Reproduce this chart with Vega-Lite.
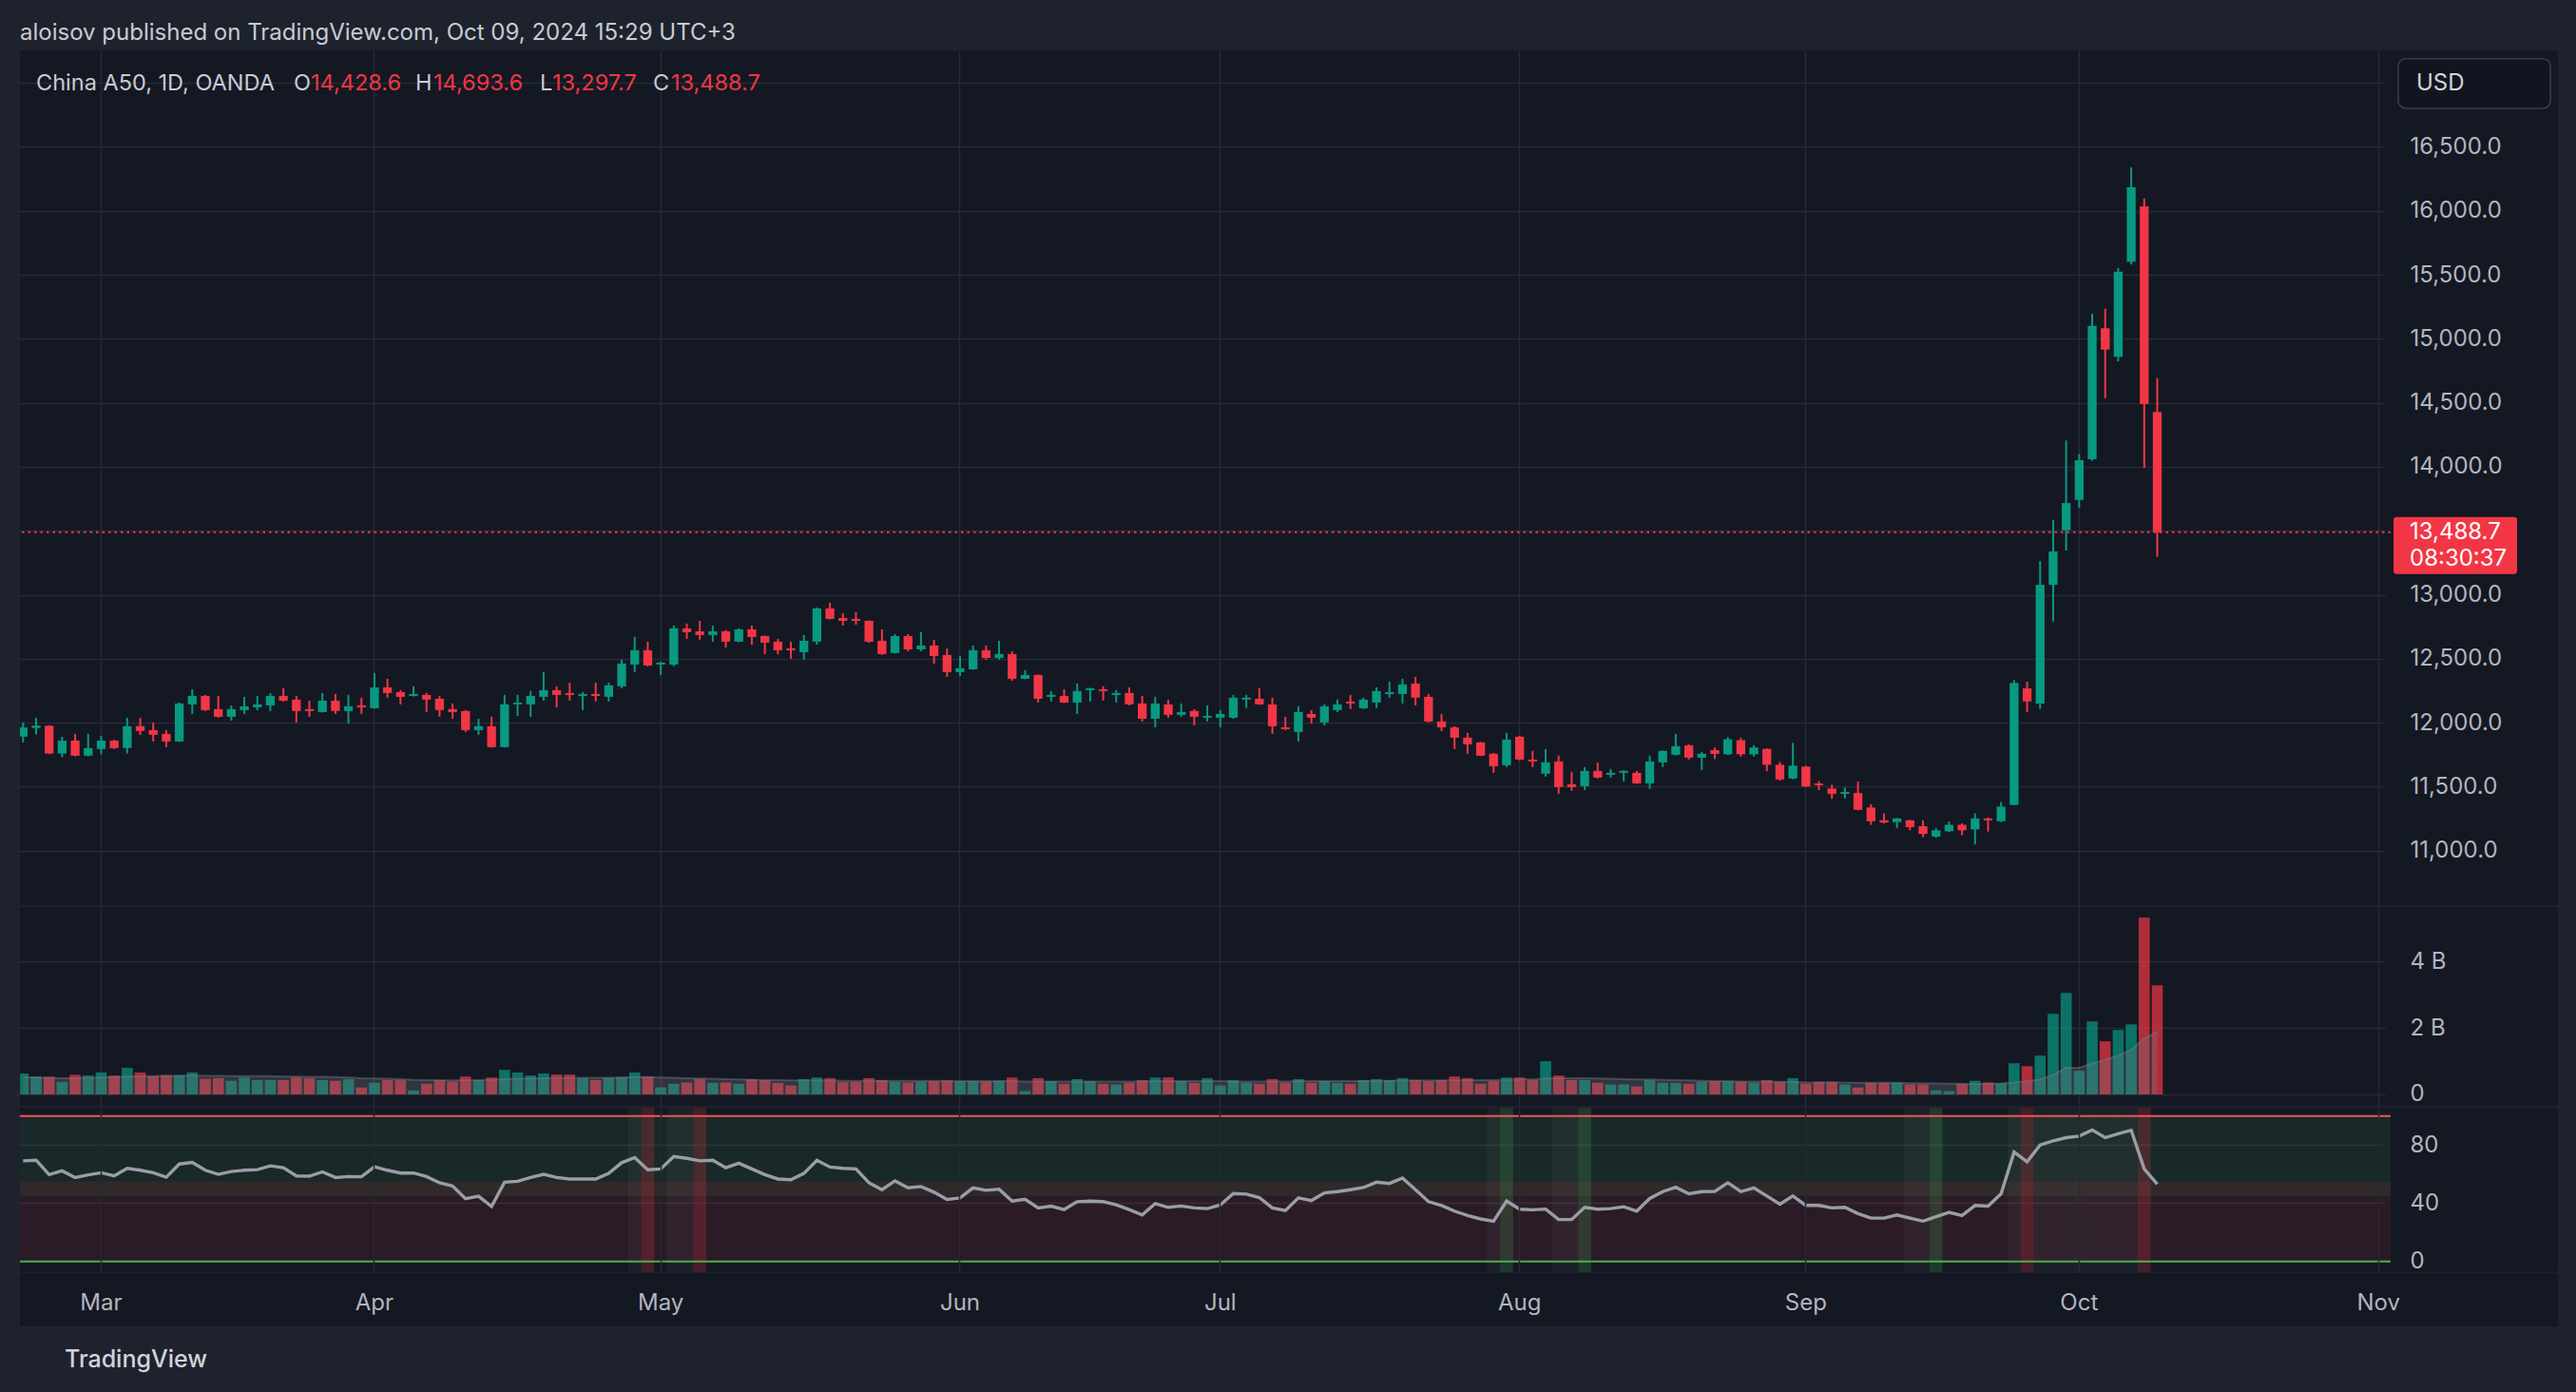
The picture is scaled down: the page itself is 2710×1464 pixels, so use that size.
{
"$schema": "https://vega.github.io/schema/vega-lite/v6.json",
"background": "#1e222d",
"padding": {"left": 20, "top": 23, "right": 20, "bottom": 30},
"config": {"font": "Inter", "view": {"stroke": null, "fill": "#141823"}, "axis": {"gridColor": "#252a36", "gridWidth": 1.5}},
"title": {"text": "aloisov published on TradingView.com, Oct 09, 2024 15:29 UTC+3", "anchor": "start", "frame": "group", "fontSize": 24, "fontWeight": "normal", "color": "#c8cbd3", "offset": 6, "font": "Inter"},
"datasets": {
"bars": [
{"date":"2024-02-22","open":11891,"high":12003,"low":11847,"close":11965,"vol":0.63,"vma":0.52,"rsi":69.2},
{"date":"2024-02-23","open":11960,"high":12040,"low":11909,"close":11978,"vol":0.54,"vma":0.51,"rsi":69.6},
{"date":"2024-02-26","open":11978,"high":11980,"low":11755,"close":11760,"vol":0.53,"vma":0.50,"rsi":59.7},
{"date":"2024-02-27","open":11760,"high":11891,"low":11730,"close":11861,"vol":0.38,"vma":0.49,"rsi":62.3},
{"date":"2024-02-28","open":11861,"high":11913,"low":11738,"close":11743,"vol":0.59,"vma":0.49,"rsi":57.7},
{"date":"2024-02-29","open":11743,"high":11913,"low":11738,"close":11802,"vol":0.57,"vma":0.50,"rsi":59.5},
{"date":"2024-03-01","open":11795,"high":11899,"low":11753,"close":11861,"vol":0.66,"vma":0.51,"rsi":61.0},
{"date":"2024-03-04","open":11861,"high":11868,"low":11795,"close":11802,"vol":0.57,"vma":0.52,"rsi":58.8},
{"date":"2024-03-05","open":11802,"high":12040,"low":11760,"close":11973,"vol":0.80,"vma":0.54,"rsi":64.0},
{"date":"2024-03-06","open":11973,"high":12040,"low":11906,"close":11936,"vol":0.66,"vma":0.55,"rsi":62.7},
{"date":"2024-03-07","open":11943,"high":12003,"low":11854,"close":11906,"vol":0.55,"vma":0.55,"rsi":61.0},
{"date":"2024-03-08","open":11913,"high":11943,"low":11810,"close":11854,"vol":0.58,"vma":0.56,"rsi":57.9},
{"date":"2024-03-11","open":11854,"high":12158,"low":11850,"close":12151,"vol":0.58,"vma":0.56,"rsi":67.0},
{"date":"2024-03-12","open":12144,"high":12262,"low":12069,"close":12210,"vol":0.66,"vma":0.57,"rsi":68.1},
{"date":"2024-03-13","open":12210,"high":12218,"low":12092,"close":12099,"vol":0.47,"vma":0.56,"rsi":62.7},
{"date":"2024-03-14","open":12107,"high":12210,"low":12040,"close":12047,"vol":0.49,"vma":0.56,"rsi":59.9},
{"date":"2024-03-15","open":12047,"high":12136,"low":12017,"close":12107,"vol":0.41,"vma":0.55,"rsi":61.8},
{"date":"2024-03-18","open":12099,"high":12203,"low":12069,"close":12129,"vol":0.51,"vma":0.55,"rsi":62.7},
{"date":"2024-03-19","open":12121,"high":12210,"low":12099,"close":12144,"vol":0.43,"vma":0.55,"rsi":63.1},
{"date":"2024-03-20","open":12136,"high":12233,"low":12092,"close":12210,"vol":0.43,"vma":0.55,"rsi":65.7},
{"date":"2024-03-21","open":12210,"high":12270,"low":12166,"close":12173,"vol":0.43,"vma":0.54,"rsi":64.4},
{"date":"2024-03-22","open":12181,"high":12210,"low":12003,"close":12092,"vol":0.51,"vma":0.54,"rsi":58.8},
{"date":"2024-03-25","open":12107,"high":12173,"low":12047,"close":12092,"vol":0.49,"vma":0.53,"rsi":58.6},
{"date":"2024-03-26","open":12084,"high":12233,"low":12080,"close":12173,"vol":0.43,"vma":0.53,"rsi":61.6},
{"date":"2024-03-27","open":12173,"high":12225,"low":12069,"close":12092,"vol":0.41,"vma":0.52,"rsi":57.7},
{"date":"2024-03-28","open":12092,"high":12218,"low":11995,"close":12129,"vol":0.46,"vma":0.51,"rsi":58.4},
{"date":"2024-03-29","open":12136,"high":12196,"low":12069,"close":12121,"vol":0.21,"vma":0.49,"rsi":58.2},
{"date":"2024-04-01","open":12114,"high":12389,"low":12110,"close":12277,"vol":0.35,"vma":0.48,"rsi":65.1},
{"date":"2024-04-02","open":12277,"high":12344,"low":12196,"close":12233,"vol":0.43,"vma":0.47,"rsi":62.7},
{"date":"2024-04-03","open":12240,"high":12255,"low":12144,"close":12203,"vol":0.43,"vma":0.46,"rsi":60.8},
{"date":"2024-04-04","open":12210,"high":12285,"low":12205,"close":12225,"vol":0.12,"vma":0.44,"rsi":60.8},
{"date":"2024-04-05","open":12218,"high":12233,"low":12084,"close":12181,"vol":0.32,"vma":0.43,"rsi":58.4},
{"date":"2024-04-08","open":12188,"high":12210,"low":12047,"close":12099,"vol":0.43,"vma":0.43,"rsi":54.1},
{"date":"2024-04-09","open":12107,"high":12151,"low":12032,"close":12084,"vol":0.39,"vma":0.42,"rsi":51.9},
{"date":"2024-04-10","open":12092,"high":12099,"low":11928,"close":11943,"vol":0.54,"vma":0.43,"rsi":43.2},
{"date":"2024-04-11","open":11943,"high":12032,"low":11906,"close":11973,"vol":0.43,"vma":0.43,"rsi":44.8},
{"date":"2024-04-12","open":11973,"high":12047,"low":11806,"close":11810,"vol":0.51,"vma":0.44,"rsi":37.8},
{"date":"2024-04-15","open":11810,"high":12218,"low":11806,"close":12144,"vol":0.74,"vma":0.46,"rsi":54.5},
{"date":"2024-04-16","open":12144,"high":12218,"low":12054,"close":12158,"vol":0.66,"vma":0.47,"rsi":55.1},
{"date":"2024-04-17","open":12144,"high":12248,"low":12047,"close":12210,"vol":0.57,"vma":0.48,"rsi":57.7},
{"date":"2024-04-18","open":12203,"high":12396,"low":12173,"close":12255,"vol":0.63,"vma":0.49,"rsi":59.9},
{"date":"2024-04-19","open":12255,"high":12285,"low":12121,"close":12218,"vol":0.60,"vma":0.50,"rsi":57.7},
{"date":"2024-04-22","open":12233,"high":12314,"low":12173,"close":12218,"vol":0.60,"vma":0.50,"rsi":56.7},
{"date":"2024-04-23","open":12210,"high":12240,"low":12099,"close":12225,"vol":0.49,"vma":0.50,"rsi":56.7},
{"date":"2024-04-24","open":12225,"high":12314,"low":12166,"close":12210,"vol":0.43,"vma":0.50,"rsi":56.7},
{"date":"2024-04-25","open":12203,"high":12314,"low":12166,"close":12292,"vol":0.50,"vma":0.50,"rsi":60.5},
{"date":"2024-04-26","open":12285,"high":12493,"low":12270,"close":12463,"vol":0.52,"vma":0.51,"rsi":67.9},
{"date":"2024-04-29","open":12455,"high":12671,"low":12396,"close":12567,"vol":0.66,"vma":0.52,"rsi":71.4},
{"date":"2024-04-30","open":12567,"high":12634,"low":12441,"close":12448,"vol":0.54,"vma":0.52,"rsi":63.1},
{"date":"2024-05-01","open":12455,"high":12478,"low":12374,"close":12470,"vol":0.21,"vma":0.51,"rsi":63.6},
{"date":"2024-05-02","open":12455,"high":12760,"low":12441,"close":12738,"vol":0.32,"vma":0.50,"rsi":72.2},
{"date":"2024-05-03","open":12738,"high":12775,"low":12656,"close":12708,"vol":0.36,"vma":0.49,"rsi":70.9},
{"date":"2024-05-06","open":12715,"high":12797,"low":12649,"close":12686,"vol":0.46,"vma":0.48,"rsi":69.2},
{"date":"2024-05-07","open":12686,"high":12760,"low":12634,"close":12715,"vol":0.35,"vma":0.47,"rsi":69.6},
{"date":"2024-05-08","open":12715,"high":12723,"low":12589,"close":12634,"vol":0.36,"vma":0.46,"rsi":64.4},
{"date":"2024-05-09","open":12634,"high":12738,"low":12630,"close":12730,"vol":0.32,"vma":0.45,"rsi":67.5},
{"date":"2024-05-10","open":12730,"high":12760,"low":12611,"close":12671,"vol":0.46,"vma":0.44,"rsi":63.6},
{"date":"2024-05-13","open":12678,"high":12682,"low":12537,"close":12626,"vol":0.43,"vma":0.44,"rsi":59.7},
{"date":"2024-05-14","open":12634,"high":12656,"low":12537,"close":12567,"vol":0.35,"vma":0.43,"rsi":56.7},
{"date":"2024-05-15","open":12582,"high":12634,"low":12500,"close":12567,"vol":0.27,"vma":0.42,"rsi":56.2},
{"date":"2024-05-16","open":12552,"high":12686,"low":12493,"close":12641,"vol":0.46,"vma":0.42,"rsi":60.5},
{"date":"2024-05-17","open":12634,"high":12901,"low":12611,"close":12894,"vol":0.51,"vma":0.42,"rsi":69.6},
{"date":"2024-05-20","open":12894,"high":12938,"low":12808,"close":12812,"vol":0.49,"vma":0.42,"rsi":64.9},
{"date":"2024-05-21","open":12819,"high":12856,"low":12760,"close":12797,"vol":0.37,"vma":0.41,"rsi":64.0},
{"date":"2024-05-22","open":12812,"high":12864,"low":12767,"close":12797,"vol":0.38,"vma":0.41,"rsi":63.6},
{"date":"2024-05-23","open":12797,"high":12800,"low":12626,"close":12634,"vol":0.49,"vma":0.41,"rsi":54.1},
{"date":"2024-05-24","open":12641,"high":12730,"low":12530,"close":12537,"vol":0.43,"vma":0.41,"rsi":49.3},
{"date":"2024-05-27","open":12545,"high":12693,"low":12541,"close":12678,"vol":0.38,"vma":0.41,"rsi":55.4},
{"date":"2024-05-28","open":12678,"high":12693,"low":12559,"close":12574,"vol":0.36,"vma":0.41,"rsi":50.6},
{"date":"2024-05-29","open":12574,"high":12708,"low":12559,"close":12604,"vol":0.39,"vma":0.41,"rsi":51.5},
{"date":"2024-05-30","open":12604,"high":12649,"low":12463,"close":12522,"vol":0.40,"vma":0.41,"rsi":47.6},
{"date":"2024-05-31","open":12530,"high":12582,"low":12359,"close":12396,"vol":0.42,"vma":0.41,"rsi":42.6},
{"date":"2024-06-03","open":12396,"high":12522,"low":12366,"close":12426,"vol":0.40,"vma":0.40,"rsi":43.7},
{"date":"2024-06-04","open":12418,"high":12604,"low":12414,"close":12567,"vol":0.40,"vma":0.40,"rsi":50.6},
{"date":"2024-06-05","open":12567,"high":12604,"low":12493,"close":12507,"vol":0.39,"vma":0.40,"rsi":48.9},
{"date":"2024-06-06","open":12507,"high":12641,"low":12493,"close":12537,"vol":0.41,"vma":0.40,"rsi":49.7},
{"date":"2024-06-07","open":12537,"high":12559,"low":12329,"close":12344,"vol":0.51,"vma":0.40,"rsi":41.5},
{"date":"2024-06-10","open":12344,"high":12411,"low":12340,"close":12374,"vol":0.10,"vma":0.39,"rsi":42.8},
{"date":"2024-06-11","open":12374,"high":12378,"low":12158,"close":12188,"vol":0.49,"vma":0.39,"rsi":36.8},
{"date":"2024-06-12","open":12203,"high":12248,"low":12166,"close":12218,"vol":0.40,"vma":0.39,"rsi":38.0},
{"date":"2024-06-13","open":12210,"high":12262,"low":12155,"close":12158,"vol":0.32,"vma":0.39,"rsi":35.7},
{"date":"2024-06-14","open":12158,"high":12307,"low":12069,"close":12248,"vol":0.46,"vma":0.39,"rsi":41.1},
{"date":"2024-06-17","open":12255,"high":12274,"low":12166,"close":12270,"vol":0.40,"vma":0.39,"rsi":41.5},
{"date":"2024-06-18","open":12262,"high":12285,"low":12173,"close":12248,"vol":0.32,"vma":0.39,"rsi":41.1},
{"date":"2024-06-19","open":12218,"high":12255,"low":12158,"close":12233,"vol":0.30,"vma":0.39,"rsi":38.9},
{"date":"2024-06-20","open":12233,"high":12277,"low":12136,"close":12144,"vol":0.35,"vma":0.39,"rsi":35.7},
{"date":"2024-06-21","open":12151,"high":12210,"low":12010,"close":12032,"vol":0.43,"vma":0.39,"rsi":32.0},
{"date":"2024-06-24","open":12032,"high":12203,"low":11965,"close":12151,"vol":0.51,"vma":0.40,"rsi":39.8},
{"date":"2024-06-25","open":12144,"high":12181,"low":12040,"close":12062,"vol":0.51,"vma":0.40,"rsi":37.2},
{"date":"2024-06-26","open":12062,"high":12151,"low":12047,"close":12084,"vol":0.40,"vma":0.40,"rsi":38.1},
{"date":"2024-06-27","open":12092,"high":12107,"low":11980,"close":12047,"vol":0.35,"vma":0.40,"rsi":36.8},
{"date":"2024-06-28","open":12040,"high":12136,"low":12010,"close":12054,"vol":0.49,"vma":0.40,"rsi":36.3},
{"date":"2024-07-01","open":12040,"high":12099,"low":11965,"close":12069,"vol":0.27,"vma":0.40,"rsi":38.9},
{"date":"2024-07-02","open":12040,"high":12218,"low":12032,"close":12196,"vol":0.43,"vma":0.39,"rsi":46.7},
{"date":"2024-07-03","open":12181,"high":12218,"low":12114,"close":12196,"vol":0.35,"vma":0.39,"rsi":46.3},
{"date":"2024-07-04","open":12188,"high":12270,"low":12140,"close":12144,"vol":0.32,"vma":0.39,"rsi":43.9},
{"date":"2024-07-05","open":12144,"high":12196,"low":11913,"close":11973,"vol":0.46,"vma":0.39,"rsi":36.8},
{"date":"2024-07-08","open":11965,"high":12047,"low":11943,"close":11951,"vol":0.35,"vma":0.39,"rsi":35.0},
{"date":"2024-07-09","open":11928,"high":12129,"low":11854,"close":12084,"vol":0.46,"vma":0.40,"rsi":43.7},
{"date":"2024-07-10","open":12069,"high":12099,"low":11995,"close":12040,"vol":0.35,"vma":0.40,"rsi":41.9},
{"date":"2024-07-11","open":12003,"high":12144,"low":11980,"close":12129,"vol":0.40,"vma":0.40,"rsi":47.1},
{"date":"2024-07-12","open":12099,"high":12181,"low":12084,"close":12144,"vol":0.35,"vma":0.40,"rsi":48.0},
{"date":"2024-07-15","open":12166,"high":12218,"low":12107,"close":12151,"vol":0.32,"vma":0.40,"rsi":49.3},
{"date":"2024-07-16","open":12114,"high":12196,"low":12107,"close":12181,"vol":0.43,"vma":0.40,"rsi":50.8},
{"date":"2024-07-17","open":12158,"high":12277,"low":12114,"close":12248,"vol":0.46,"vma":0.41,"rsi":54.5},
{"date":"2024-07-18","open":12225,"high":12322,"low":12196,"close":12240,"vol":0.43,"vma":0.41,"rsi":53.6},
{"date":"2024-07-19","open":12225,"high":12344,"low":12151,"close":12300,"vol":0.49,"vma":0.42,"rsi":57.3},
{"date":"2024-07-22","open":12307,"high":12359,"low":12136,"close":12196,"vol":0.43,"vma":0.42,"rsi":49.3},
{"date":"2024-07-23","open":12203,"high":12225,"low":12003,"close":12010,"vol":0.40,"vma":0.42,"rsi":41.1},
{"date":"2024-07-24","open":12010,"high":12069,"low":11936,"close":11965,"vol":0.43,"vma":0.42,"rsi":38.5},
{"date":"2024-07-25","open":11965,"high":11973,"low":11795,"close":11884,"vol":0.54,"vma":0.43,"rsi":34.6},
{"date":"2024-07-26","open":11884,"high":11921,"low":11758,"close":11832,"vol":0.49,"vma":0.43,"rsi":31.6},
{"date":"2024-07-29","open":11847,"high":11850,"low":11740,"close":11743,"vol":0.32,"vma":0.43,"rsi":29.2},
{"date":"2024-07-30","open":11758,"high":11765,"low":11609,"close":11661,"vol":0.40,"vma":0.43,"rsi":27.7},
{"date":"2024-07-31","open":11668,"high":11921,"low":11654,"close":11869,"vol":0.51,"vma":0.44,"rsi":41.5},
{"date":"2024-08-01","open":11891,"high":11899,"low":11706,"close":11713,"vol":0.51,"vma":0.45,"rsi":35.9},
{"date":"2024-08-02","open":11713,"high":11780,"low":11654,"close":11698,"vol":0.43,"vma":0.45,"rsi":35.5},
{"date":"2024-08-05","open":11602,"high":11795,"low":11579,"close":11691,"vol":1.00,"vma":0.48,"rsi":36.0},
{"date":"2024-08-06","open":11698,"high":11743,"low":11446,"close":11498,"vol":0.57,"vma":0.49,"rsi":28.8},
{"date":"2024-08-07","open":11520,"high":11617,"low":11468,"close":11498,"vol":0.43,"vma":0.49,"rsi":28.8},
{"date":"2024-08-08","open":11505,"high":11654,"low":11475,"close":11624,"vol":0.43,"vma":0.49,"rsi":37.2},
{"date":"2024-08-09","open":11624,"high":11691,"low":11564,"close":11572,"vol":0.35,"vma":0.48,"rsi":35.9},
{"date":"2024-08-12","open":11594,"high":11639,"low":11572,"close":11609,"vol":0.30,"vma":0.47,"rsi":36.3},
{"date":"2024-08-13","open":11609,"high":11628,"low":11542,"close":11624,"vol":0.30,"vma":0.46,"rsi":37.6},
{"date":"2024-08-14","open":11609,"high":11624,"low":11523,"close":11527,"vol":0.24,"vma":0.45,"rsi":34.6},
{"date":"2024-08-15","open":11527,"high":11743,"low":11483,"close":11698,"vol":0.43,"vma":0.45,"rsi":43.3},
{"date":"2024-08-16","open":11691,"high":11784,"low":11654,"close":11780,"vol":0.35,"vma":0.44,"rsi":48.0},
{"date":"2024-08-19","open":11750,"high":11913,"low":11746,"close":11817,"vol":0.35,"vma":0.43,"rsi":51.0},
{"date":"2024-08-20","open":11824,"high":11832,"low":11713,"close":11728,"vol":0.32,"vma":0.42,"rsi":46.5},
{"date":"2024-08-21","open":11728,"high":11772,"low":11631,"close":11758,"vol":0.38,"vma":0.41,"rsi":48.0},
{"date":"2024-08-22","open":11786,"high":11807,"low":11718,"close":11757,"vol":0.40,"vma":0.40,"rsi":48.2},
{"date":"2024-08-23","open":11754,"high":11889,"low":11747,"close":11871,"vol":0.40,"vma":0.40,"rsi":54.1},
{"date":"2024-08-26","open":11864,"high":11882,"low":11736,"close":11754,"vol":0.38,"vma":0.39,"rsi":48.0},
{"date":"2024-08-27","open":11754,"high":11825,"low":11736,"close":11807,"vol":0.35,"vma":0.39,"rsi":50.6},
{"date":"2024-08-28","open":11796,"high":11800,"low":11622,"close":11672,"vol":0.43,"vma":0.39,"rsi":45.0},
{"date":"2024-08-29","open":11672,"high":11693,"low":11548,"close":11558,"vol":0.38,"vma":0.38,"rsi":39.4},
{"date":"2024-08-30","open":11565,"high":11843,"low":11558,"close":11665,"vol":0.49,"vma":0.38,"rsi":45.0},
{"date":"2024-09-02","open":11658,"high":11665,"low":11498,"close":11502,"vol":0.32,"vma":0.36,"rsi":38.5},
{"date":"2024-09-03","open":11526,"high":11544,"low":11473,"close":11512,"vol":0.38,"vma":0.36,"rsi":38.5},
{"date":"2024-09-04","open":11487,"high":11516,"low":11406,"close":11445,"vol":0.38,"vma":0.36,"rsi":36.8},
{"date":"2024-09-05","open":11445,"high":11494,"low":11409,"close":11459,"vol":0.30,"vma":0.36,"rsi":37.2},
{"date":"2024-09-06","open":11452,"high":11541,"low":11316,"close":11320,"vol":0.21,"vma":0.35,"rsi":32.9},
{"date":"2024-09-09","open":11338,"high":11363,"low":11203,"close":11231,"vol":0.35,"vma":0.35,"rsi":29.8},
{"date":"2024-09-10","open":11238,"high":11292,"low":11214,"close":11221,"vol":0.35,"vma":0.35,"rsi":29.8},
{"date":"2024-09-11","open":11224,"high":11256,"low":11178,"close":11253,"vol":0.35,"vma":0.35,"rsi":32.0},
{"date":"2024-09-12","open":11238,"high":11242,"low":11160,"close":11185,"vol":0.30,"vma":0.34,"rsi":29.8},
{"date":"2024-09-13","open":11192,"high":11238,"low":11107,"close":11132,"vol":0.30,"vma":0.34,"rsi":27.7},
{"date":"2024-09-16","open":11111,"high":11178,"low":11103,"close":11160,"vol":0.12,"vma":0.33,"rsi":30.7},
{"date":"2024-09-17","open":11153,"high":11228,"low":11146,"close":11203,"vol":0.10,"vma":0.32,"rsi":33.7},
{"date":"2024-09-18","open":11203,"high":11214,"low":11121,"close":11160,"vol":0.32,"vma":0.32,"rsi":31.6},
{"date":"2024-09-19","open":11167,"high":11292,"low":11050,"close":11253,"vol":0.41,"vma":0.31,"rsi":38.5},
{"date":"2024-09-20","open":11253,"high":11260,"low":11150,"close":11238,"vol":0.36,"vma":0.32,"rsi":38.1},
{"date":"2024-09-23","open":11231,"high":11381,"low":11224,"close":11345,"vol":0.33,"vma":0.33,"rsi":46.5},
{"date":"2024-09-24","open":11359,"high":12333,"low":11355,"close":12312,"vol":0.94,"vma":0.36,"rsi":75.2},
{"date":"2024-09-25","open":12269,"high":12321,"low":12085,"close":12167,"vol":0.85,"vma":0.40,"rsi":68.5},
{"date":"2024-09-26","open":12150,"high":13263,"low":12108,"close":13078,"vol":1.17,"vma":0.45,"rsi":80.1},
{"date":"2024-09-27","open":13078,"high":13584,"low":12791,"close":13339,"vol":2.43,"vma":0.59,"rsi":82.9},
{"date":"2024-09-30","open":13505,"high":14206,"low":13346,"close":13717,"vol":3.06,"vma":0.80,"rsi":85.1},
{"date":"2024-10-01","open":13742,"high":14099,"low":13681,"close":14052,"vol":0.71,"vma":0.80,"rsi":86.2},
{"date":"2024-10-02","open":14060,"high":15197,"low":14046,"close":15101,"vol":2.20,"vma":0.93,"rsi":90.4},
{"date":"2024-10-03","open":15083,"high":15236,"low":14536,"close":14916,"vol":1.60,"vma":1.05,"rsi":85.1},
{"date":"2024-10-04","open":14860,"high":15553,"low":14824,"close":15524,"vol":1.94,"vma":1.17,"rsi":87.8},
{"date":"2024-10-07","open":15602,"high":16341,"low":15581,"close":16185,"vol":2.11,"vma":1.34,"rsi":90.2},
{"date":"2024-10-08","open":16036,"high":16096,"low":13993,"close":14490,"vol":5.33,"vma":1.69,"rsi":63.6},
{"date":"2024-10-09","open":14428.6,"high":14693.6,"low":13297.7,"close":13488.7,"vol":3.29,"vma":1.89,"rsi":53.2}
],
"signals": [
{"date":"2024-04-29","kind":"zone"},{"date":"2024-04-30","kind":"bear"},{"date":"2024-05-02","kind":"zone"},{"date":"2024-05-03","kind":"zone"},{"date":"2024-05-06","kind":"bear"},
{"date":"2024-07-30","kind":"zone"},{"date":"2024-07-31","kind":"bull"},{"date":"2024-08-06","kind":"zone"},{"date":"2024-08-07","kind":"zone"},{"date":"2024-08-08","kind":"bull"},
{"date":"2024-09-12","kind":"zone"},{"date":"2024-09-13","kind":"zone"},{"date":"2024-09-16","kind":"bull"},
{"date":"2024-09-24","kind":"zone"},{"date":"2024-09-25","kind":"bear"},{"date":"2024-09-26","kind":"zone"},{"date":"2024-09-27","kind":"zone"},{"date":"2024-09-30","kind":"zone"},{"date":"2024-10-01","kind":"zone"},{"date":"2024-10-02","kind":"zone"},{"date":"2024-10-03","kind":"zone"},{"date":"2024-10-04","kind":"zone"},{"date":"2024-10-07","kind":"zone"},{"date":"2024-10-08","kind":"bear"}
]
},
"spacing": 2,
"vconcat": [
{"spacing": 0, "bounds": "flush", "hconcat": [
 {"width": 2494, "height": 899, "data": {"name": "bars"},
  "layer": [
   {"encoding": {
     "x": {"field": "date", "type": "ordinal",
       "scale": {"type": "band", "paddingInner": 0, "paddingOuter": 0, "range": [-3.545, 2488.035], "domain": ["2024-02-22","2024-02-23","2024-02-26","2024-02-27","2024-02-28","2024-02-29","2024-03-01","2024-03-04","2024-03-05","2024-03-06","2024-03-07","2024-03-08","2024-03-11","2024-03-12","2024-03-13","2024-03-14","2024-03-15","2024-03-18","2024-03-19","2024-03-20","2024-03-21","2024-03-22","2024-03-25","2024-03-26","2024-03-27","2024-03-28","2024-03-29","2024-04-01","2024-04-02","2024-04-03","2024-04-04","2024-04-05","2024-04-08","2024-04-09","2024-04-10","2024-04-11","2024-04-12","2024-04-15","2024-04-16","2024-04-17","2024-04-18","2024-04-19","2024-04-22","2024-04-23","2024-04-24","2024-04-25","2024-04-26","2024-04-29","2024-04-30","2024-05-01","2024-05-02","2024-05-03","2024-05-06","2024-05-07","2024-05-08","2024-05-09","2024-05-10","2024-05-13","2024-05-14","2024-05-15","2024-05-16","2024-05-17","2024-05-20","2024-05-21","2024-05-22","2024-05-23","2024-05-24","2024-05-27","2024-05-28","2024-05-29","2024-05-30","2024-05-31","2024-06-03","2024-06-04","2024-06-05","2024-06-06","2024-06-07","2024-06-10","2024-06-11","2024-06-12","2024-06-13","2024-06-14","2024-06-17","2024-06-18","2024-06-19","2024-06-20","2024-06-21","2024-06-24","2024-06-25","2024-06-26","2024-06-27","2024-06-28","2024-07-01","2024-07-02","2024-07-03","2024-07-04","2024-07-05","2024-07-08","2024-07-09","2024-07-10","2024-07-11","2024-07-12","2024-07-15","2024-07-16","2024-07-17","2024-07-18","2024-07-19","2024-07-22","2024-07-23","2024-07-24","2024-07-25","2024-07-26","2024-07-29","2024-07-30","2024-07-31","2024-08-01","2024-08-02","2024-08-05","2024-08-06","2024-08-07","2024-08-08","2024-08-09","2024-08-12","2024-08-13","2024-08-14","2024-08-15","2024-08-16","2024-08-19","2024-08-20","2024-08-21","2024-08-22","2024-08-23","2024-08-26","2024-08-27","2024-08-28","2024-08-29","2024-08-30","2024-09-02","2024-09-03","2024-09-04","2024-09-05","2024-09-06","2024-09-09","2024-09-10","2024-09-11","2024-09-12","2024-09-13","2024-09-16","2024-09-17","2024-09-18","2024-09-19","2024-09-20","2024-09-23","2024-09-24","2024-09-25","2024-09-26","2024-09-27","2024-09-30","2024-10-01","2024-10-02","2024-10-03","2024-10-04","2024-10-07","2024-10-08","2024-10-09","2024-10-10","2024-10-11","2024-10-14","2024-10-15","2024-10-16","2024-10-17","2024-10-18","2024-10-21","2024-10-22","2024-10-23","2024-10-24","2024-10-25","2024-10-28","2024-10-29","2024-10-30","2024-10-31","2024-11-01"]},
       "axis": {"values": ["2024-03-01","2024-04-01","2024-05-01","2024-06-03","2024-07-01","2024-08-01","2024-09-02","2024-10-01","2024-11-01"], "labels": false, "ticks": false, "domain": false, "grid": true, "bandPosition": 0.5, "title": null}},
     "color": {"condition": {"test": "datum.close >= datum.open", "value": "#089981"}, "value": "#f23645"}},
    "layer": [
     {"mark": {"type": "rule", "strokeWidth": 2, "clip": true},
      "encoding": {"y": {"field": "low", "type": "quantitative", "scale": {"domain": [10575, 17254], "zero": false, "nice": false},
         "axis": {"orient": "left", "values": [11000,11500,12000,12500,13000,13500,14000,14500,15000,15500,16000,16500,17000], "labels": false, "ticks": false, "domain": false, "grid": true, "title": null}},
       "y2": {"field": "high"}}},
     {"mark": {"type": "bar", "width": {"band": 0.68}, "clip": true},
      "encoding": {"y": {"field": "open", "type": "quantitative"}, "y2": {"field": "close"}}}
    ]},
   {"transform": [{"filter": "datum.date === '2024-10-09'"}],
    "mark": {"type": "rule", "color": "#f23645", "strokeWidth": 2, "strokeDash": [2.5, 4]},
    "encoding": {"y": {"field": "close", "type": "quantitative"}}},
   {"transform": [{"filter": "datum.date === '2024-10-09'"}],
    "encoding": {"x": {"datum": "2024-02-23", "type": "ordinal"}, "y": {"datum": 16995, "type": "quantitative"}},
    "layer": [
     {"mark": {"type": "text", "text": "China A50, 1D, OANDA", "align": "left", "baseline": "middle", "fontSize": 23.5, "color": "#c8cbd3", "dx": 0}},
     {"mark": {"type": "text", "text": "O", "align": "left", "baseline": "middle", "fontSize": 23.5, "color": "#c8cbd3", "dx": 271}},
     {"mark": {"type": "text", "align": "left", "baseline": "middle", "fontSize": 23.5, "color": "#f23645", "dx": 289}, "encoding": {"text": {"field": "open", "type": "quantitative", "format": ",.1f"}}},
     {"mark": {"type": "text", "text": "H", "align": "left", "baseline": "middle", "fontSize": 23.5, "color": "#c8cbd3", "dx": 399}},
     {"mark": {"type": "text", "align": "left", "baseline": "middle", "fontSize": 23.5, "color": "#f23645", "dx": 418}, "encoding": {"text": {"field": "high", "type": "quantitative", "format": ",.1f"}}},
     {"mark": {"type": "text", "text": "L", "align": "left", "baseline": "middle", "fontSize": 23.5, "color": "#c8cbd3", "dx": 530}},
     {"mark": {"type": "text", "align": "left", "baseline": "middle", "fontSize": 23.5, "color": "#f23645", "dx": 543}, "encoding": {"text": {"field": "low", "type": "quantitative", "format": ",.1f"}}},
     {"mark": {"type": "text", "text": "C", "align": "left", "baseline": "middle", "fontSize": 23.5, "color": "#c8cbd3", "dx": 649}},
     {"mark": {"type": "text", "align": "left", "baseline": "middle", "fontSize": 23.5, "color": "#f23645", "dx": 668}, "encoding": {"text": {"field": "close", "type": "quantitative", "format": ",.1f"}}}
    ]}
  ]},
 {"width": 176, "height": 899, "data": {"name": "bars"},
  "transform": [{"filter": "datum.date === '2024-10-09'"}],
  "layer": [
   {"mark": {"type": "rect", "color": "#12151f", "stroke": "#3a3e4a", "strokeWidth": 1.5, "cornerRadius": 8},
    "encoding": {
     "x": {"datum": 0.045, "type": "quantitative", "scale": {"domain": [0, 1], "nice": false, "zero": false}, "axis": null},
     "x2": {"datum": 0.955},
     "y": {"datum": 17189, "type": "quantitative", "scale": {"domain": [10575, 17254], "zero": false, "nice": false},
       "axis": {"orient": "right", "offset": -176, "values": [11000,11500,12000,12500,13000,14000,14500,15000,15500,16000,16500], "format": ",.1f", "labelPadding": 20, "ticks": false, "tickSize": 0, "domain": false, "grid": false, "labelColor": "#b2b5be", "labelFontSize": 24, "labelFont": "Inter", "title": null}},
     "y2": {"datum": 16801}}},
   {"mark": {"type": "text", "text": "USD", "align": "left", "baseline": "middle", "dx": -61, "fontSize": 24, "color": "#d1d4dc"},
    "encoding": {"y": {"datum": 16996, "type": "quantitative"}}},
   {"mark": {"type": "rect", "color": "#f23645", "cornerRadius": 3, "yOffset": -16, "y2Offset": 44},
    "encoding": {"x": {"datum": 0.017, "type": "quantitative"}, "x2": {"datum": 0.756}, "y": {"field": "close", "type": "quantitative"}, "y2": {"field": "close"}}},
   {"mark": {"type": "text", "align": "left", "baseline": "middle", "dx": -68, "fontSize": 24, "color": "#ffffff"},
    "encoding": {"y": {"field": "close", "type": "quantitative"}, "text": {"field": "close", "type": "quantitative", "format": ",.1f"}}},
   {"mark": {"type": "text", "text": "08:30:37", "align": "left", "baseline": "middle", "dx": -68, "dy": 28, "fontSize": 24, "color": "#ffffff"},
    "encoding": {"y": {"field": "close", "type": "quantitative"}}}
  ]}
]},
{"spacing": 0, "bounds": "flush", "hconcat": [
 {"width": 2494, "height": 209, "data": {"name": "bars"},
  "encoding": {
   "x": {"field": "date", "type": "ordinal",
     "scale": {"type": "band", "paddingInner": 0, "paddingOuter": 0, "range": [-3.545, 2488.035], "domain": ["2024-02-22","2024-02-23","2024-02-26","2024-02-27","2024-02-28","2024-02-29","2024-03-01","2024-03-04","2024-03-05","2024-03-06","2024-03-07","2024-03-08","2024-03-11","2024-03-12","2024-03-13","2024-03-14","2024-03-15","2024-03-18","2024-03-19","2024-03-20","2024-03-21","2024-03-22","2024-03-25","2024-03-26","2024-03-27","2024-03-28","2024-03-29","2024-04-01","2024-04-02","2024-04-03","2024-04-04","2024-04-05","2024-04-08","2024-04-09","2024-04-10","2024-04-11","2024-04-12","2024-04-15","2024-04-16","2024-04-17","2024-04-18","2024-04-19","2024-04-22","2024-04-23","2024-04-24","2024-04-25","2024-04-26","2024-04-29","2024-04-30","2024-05-01","2024-05-02","2024-05-03","2024-05-06","2024-05-07","2024-05-08","2024-05-09","2024-05-10","2024-05-13","2024-05-14","2024-05-15","2024-05-16","2024-05-17","2024-05-20","2024-05-21","2024-05-22","2024-05-23","2024-05-24","2024-05-27","2024-05-28","2024-05-29","2024-05-30","2024-05-31","2024-06-03","2024-06-04","2024-06-05","2024-06-06","2024-06-07","2024-06-10","2024-06-11","2024-06-12","2024-06-13","2024-06-14","2024-06-17","2024-06-18","2024-06-19","2024-06-20","2024-06-21","2024-06-24","2024-06-25","2024-06-26","2024-06-27","2024-06-28","2024-07-01","2024-07-02","2024-07-03","2024-07-04","2024-07-05","2024-07-08","2024-07-09","2024-07-10","2024-07-11","2024-07-12","2024-07-15","2024-07-16","2024-07-17","2024-07-18","2024-07-19","2024-07-22","2024-07-23","2024-07-24","2024-07-25","2024-07-26","2024-07-29","2024-07-30","2024-07-31","2024-08-01","2024-08-02","2024-08-05","2024-08-06","2024-08-07","2024-08-08","2024-08-09","2024-08-12","2024-08-13","2024-08-14","2024-08-15","2024-08-16","2024-08-19","2024-08-20","2024-08-21","2024-08-22","2024-08-23","2024-08-26","2024-08-27","2024-08-28","2024-08-29","2024-08-30","2024-09-02","2024-09-03","2024-09-04","2024-09-05","2024-09-06","2024-09-09","2024-09-10","2024-09-11","2024-09-12","2024-09-13","2024-09-16","2024-09-17","2024-09-18","2024-09-19","2024-09-20","2024-09-23","2024-09-24","2024-09-25","2024-09-26","2024-09-27","2024-09-30","2024-10-01","2024-10-02","2024-10-03","2024-10-04","2024-10-07","2024-10-08","2024-10-09","2024-10-10","2024-10-11","2024-10-14","2024-10-15","2024-10-16","2024-10-17","2024-10-18","2024-10-21","2024-10-22","2024-10-23","2024-10-24","2024-10-25","2024-10-28","2024-10-29","2024-10-30","2024-10-31","2024-11-01"]},
     "axis": {"values": ["2024-03-01","2024-04-01","2024-05-01","2024-06-03","2024-07-01","2024-08-01","2024-09-02","2024-10-01","2024-11-01"], "labels": false, "ticks": false, "domain": false, "grid": true, "bandPosition": 0.5, "title": null}}},
  "layer": [
   {"mark": {"type": "bar", "width": {"band": 0.85}, "opacity": 0.7, "clip": true},
    "encoding": {"y": {"field": "vol", "type": "quantitative", "scale": {"domain": [-0.344, 5.645], "zero": false, "nice": false},
       "axis": {"orient": "left", "values": [0, 2, 4], "labels": false, "ticks": false, "domain": false, "grid": true, "title": null}},
     "y2": {"datum": 0},
     "color": {"condition": {"test": "datum.close >= datum.open", "value": "#089981"}, "value": "#f23645"}}},
   {"mark": {"type": "area", "color": "#787b86", "opacity": 0.3, "clip": true},
    "encoding": {"y": {"field": "vma", "type": "quantitative"}, "y2": {"datum": 0}}},
   {"mark": {"type": "line", "color": "#787b86", "opacity": 0.45, "strokeWidth": 2, "clip": true},
    "encoding": {"y": {"field": "vma", "type": "quantitative"}}}
  ]},
 {"width": 176, "height": 209, "data": {"name": "bars"},
  "mark": {"type": "rule", "opacity": 0},
  "encoding": {"y": {"field": "vol", "type": "quantitative", "scale": {"domain": [-0.344, 5.645], "zero": false, "nice": false},
    "axis": {"orient": "right", "offset": -176, "values": [0, 2, 4], "labelExpr": "datum.value == 0 ? '0' : datum.value + ' B'", "labelPadding": 20, "ticks": false, "tickSize": 0, "domain": false, "grid": false, "labelColor": "#b2b5be", "labelFontSize": 24, "labelFont": "Inter", "title": null}}}}
]},
{"spacing": 0, "vconcat": [
 {"spacing": 0, "bounds": "flush", "hconcat": [
  {"width": 2494, "height": 173, "data": {"name": "bars"},
   "layer": [
    {"transform": [{"filter": "datum.date === '2024-10-09'"}],
     "mark": {"type": "rect", "color": "#4caf50", "opacity": 0.11},
     "encoding": {"y": {"datum": 100, "type": "quantitative", "scale": {"domain": [-7.4, 105.7], "zero": false, "nice": false},
        "axis": {"orient": "left", "values": [40, 80], "labels": false, "ticks": false, "domain": false, "grid": true, "title": null}},
      "y2": {"datum": 45}}},
    {"transform": [{"filter": "datum.date === '2024-10-09'"}],
     "mark": {"type": "rect", "color": "#f23645", "opacity": 0.1},
     "encoding": {"y": {"datum": 55, "type": "quantitative"}, "y2": {"datum": 0}}},
    {"encoding": {
      "x": {"field": "date", "type": "ordinal",
        "scale": {"type": "band", "paddingInner": 0, "paddingOuter": 0, "range": [-3.545, 2488.035], "domain": ["2024-02-22","2024-02-23","2024-02-26","2024-02-27","2024-02-28","2024-02-29","2024-03-01","2024-03-04","2024-03-05","2024-03-06","2024-03-07","2024-03-08","2024-03-11","2024-03-12","2024-03-13","2024-03-14","2024-03-15","2024-03-18","2024-03-19","2024-03-20","2024-03-21","2024-03-22","2024-03-25","2024-03-26","2024-03-27","2024-03-28","2024-03-29","2024-04-01","2024-04-02","2024-04-03","2024-04-04","2024-04-05","2024-04-08","2024-04-09","2024-04-10","2024-04-11","2024-04-12","2024-04-15","2024-04-16","2024-04-17","2024-04-18","2024-04-19","2024-04-22","2024-04-23","2024-04-24","2024-04-25","2024-04-26","2024-04-29","2024-04-30","2024-05-01","2024-05-02","2024-05-03","2024-05-06","2024-05-07","2024-05-08","2024-05-09","2024-05-10","2024-05-13","2024-05-14","2024-05-15","2024-05-16","2024-05-17","2024-05-20","2024-05-21","2024-05-22","2024-05-23","2024-05-24","2024-05-27","2024-05-28","2024-05-29","2024-05-30","2024-05-31","2024-06-03","2024-06-04","2024-06-05","2024-06-06","2024-06-07","2024-06-10","2024-06-11","2024-06-12","2024-06-13","2024-06-14","2024-06-17","2024-06-18","2024-06-19","2024-06-20","2024-06-21","2024-06-24","2024-06-25","2024-06-26","2024-06-27","2024-06-28","2024-07-01","2024-07-02","2024-07-03","2024-07-04","2024-07-05","2024-07-08","2024-07-09","2024-07-10","2024-07-11","2024-07-12","2024-07-15","2024-07-16","2024-07-17","2024-07-18","2024-07-19","2024-07-22","2024-07-23","2024-07-24","2024-07-25","2024-07-26","2024-07-29","2024-07-30","2024-07-31","2024-08-01","2024-08-02","2024-08-05","2024-08-06","2024-08-07","2024-08-08","2024-08-09","2024-08-12","2024-08-13","2024-08-14","2024-08-15","2024-08-16","2024-08-19","2024-08-20","2024-08-21","2024-08-22","2024-08-23","2024-08-26","2024-08-27","2024-08-28","2024-08-29","2024-08-30","2024-09-02","2024-09-03","2024-09-04","2024-09-05","2024-09-06","2024-09-09","2024-09-10","2024-09-11","2024-09-12","2024-09-13","2024-09-16","2024-09-17","2024-09-18","2024-09-19","2024-09-20","2024-09-23","2024-09-24","2024-09-25","2024-09-26","2024-09-27","2024-09-30","2024-10-01","2024-10-02","2024-10-03","2024-10-04","2024-10-07","2024-10-08","2024-10-09","2024-10-10","2024-10-11","2024-10-14","2024-10-15","2024-10-16","2024-10-17","2024-10-18","2024-10-21","2024-10-22","2024-10-23","2024-10-24","2024-10-25","2024-10-28","2024-10-29","2024-10-30","2024-10-31","2024-11-01"]},
        "axis": {"values": ["2024-03-01","2024-04-01","2024-05-01","2024-06-03","2024-07-01","2024-08-01","2024-09-02","2024-10-01","2024-11-01"], "labels": false, "ticks": false, "domain": false, "grid": true, "bandPosition": 0.5, "title": null}}},
     "layer": [
      {"data": {"name": "signals"}, "mark": {"type": "rect", "clip": true},
       "encoding": {
        "color": {"field": "kind", "type": "nominal", "scale": {"domain": ["bear", "bull", "zone"], "range": ["rgba(242,54,69,0.22)", "rgba(76,175,80,0.22)", "rgba(255,255,255,0.035)"]}, "legend": null}}},
      {"mark": {"type": "line", "color": "#9a9da6", "strokeWidth": 3.4, "clip": true},
       "encoding": {"y": {"field": "rsi", "type": "quantitative"}}}
     ]},
    {"transform": [{"filter": "datum.date === '2024-10-09'"}],
     "mark": {"type": "rule", "color": "#f05650", "strokeWidth": 2},
     "encoding": {"y": {"datum": 100, "type": "quantitative"}}},
    {"transform": [{"filter": "datum.date === '2024-10-09'"}],
     "mark": {"type": "rule", "color": "#4caf50", "strokeWidth": 2},
     "encoding": {"y": {"datum": 0, "type": "quantitative"}}}
   ]},
  {"width": 176, "height": 173, "data": {"name": "bars"},
   "mark": {"type": "rule", "opacity": 0},
   "encoding": {"y": {"field": "rsi", "type": "quantitative", "scale": {"domain": [-7.4, 105.7], "zero": false, "nice": false},
     "axis": {"orient": "right", "offset": -176, "values": [0, 40, 80], "labelPadding": 20, "ticks": false, "tickSize": 0, "domain": false, "grid": false, "labelColor": "#b2b5be", "labelFontSize": 24, "labelFont": "Inter", "title": null}}}}
 ]},
 {"width": 2670, "height": 56, "data": {"name": "bars"},
  "title": {"text": "TradingView", "orient": "bottom", "anchor": "start", "baseline": "middle", "offset": 35, "dx": 47, "fontSize": 25, "fontWeight": 500, "color": "#d1d4dc", "font": "Inter"},
  "mark": {"type": "point", "opacity": 0},
  "encoding": {"x": {"field": "date", "type": "ordinal",
    "scale": {"type": "band", "paddingInner": 0, "paddingOuter": 0, "range": [-3.545, 2488.035], "domain": ["2024-02-22","2024-02-23","2024-02-26","2024-02-27","2024-02-28","2024-02-29","2024-03-01","2024-03-04","2024-03-05","2024-03-06","2024-03-07","2024-03-08","2024-03-11","2024-03-12","2024-03-13","2024-03-14","2024-03-15","2024-03-18","2024-03-19","2024-03-20","2024-03-21","2024-03-22","2024-03-25","2024-03-26","2024-03-27","2024-03-28","2024-03-29","2024-04-01","2024-04-02","2024-04-03","2024-04-04","2024-04-05","2024-04-08","2024-04-09","2024-04-10","2024-04-11","2024-04-12","2024-04-15","2024-04-16","2024-04-17","2024-04-18","2024-04-19","2024-04-22","2024-04-23","2024-04-24","2024-04-25","2024-04-26","2024-04-29","2024-04-30","2024-05-01","2024-05-02","2024-05-03","2024-05-06","2024-05-07","2024-05-08","2024-05-09","2024-05-10","2024-05-13","2024-05-14","2024-05-15","2024-05-16","2024-05-17","2024-05-20","2024-05-21","2024-05-22","2024-05-23","2024-05-24","2024-05-27","2024-05-28","2024-05-29","2024-05-30","2024-05-31","2024-06-03","2024-06-04","2024-06-05","2024-06-06","2024-06-07","2024-06-10","2024-06-11","2024-06-12","2024-06-13","2024-06-14","2024-06-17","2024-06-18","2024-06-19","2024-06-20","2024-06-21","2024-06-24","2024-06-25","2024-06-26","2024-06-27","2024-06-28","2024-07-01","2024-07-02","2024-07-03","2024-07-04","2024-07-05","2024-07-08","2024-07-09","2024-07-10","2024-07-11","2024-07-12","2024-07-15","2024-07-16","2024-07-17","2024-07-18","2024-07-19","2024-07-22","2024-07-23","2024-07-24","2024-07-25","2024-07-26","2024-07-29","2024-07-30","2024-07-31","2024-08-01","2024-08-02","2024-08-05","2024-08-06","2024-08-07","2024-08-08","2024-08-09","2024-08-12","2024-08-13","2024-08-14","2024-08-15","2024-08-16","2024-08-19","2024-08-20","2024-08-21","2024-08-22","2024-08-23","2024-08-26","2024-08-27","2024-08-28","2024-08-29","2024-08-30","2024-09-02","2024-09-03","2024-09-04","2024-09-05","2024-09-06","2024-09-09","2024-09-10","2024-09-11","2024-09-12","2024-09-13","2024-09-16","2024-09-17","2024-09-18","2024-09-19","2024-09-20","2024-09-23","2024-09-24","2024-09-25","2024-09-26","2024-09-27","2024-09-30","2024-10-01","2024-10-02","2024-10-03","2024-10-04","2024-10-07","2024-10-08","2024-10-09","2024-10-10","2024-10-11","2024-10-14","2024-10-15","2024-10-16","2024-10-17","2024-10-18","2024-10-21","2024-10-22","2024-10-23","2024-10-24","2024-10-25","2024-10-28","2024-10-29","2024-10-30","2024-10-31","2024-11-01"]},
    "axis": {"orient": "bottom", "offset": -56, "values": ["2024-03-01","2024-04-01","2024-05-01","2024-06-03","2024-07-01","2024-08-01","2024-09-02","2024-10-01","2024-11-01"], "labelExpr": "utcFormat(toDate(datum.value), '%b')", "labelAngle": 0, "labelPadding": 31, "labelBaseline": "middle", "ticks": false, "tickSize": 0, "domain": false, "grid": false, "labelColor": "#b2b5be", "labelFontSize": 24, "labelFont": "Inter", "bandPosition": 0.5, "labelOverlap": false, "labelFlush": false, "title": null}}}}
]}
]
}
